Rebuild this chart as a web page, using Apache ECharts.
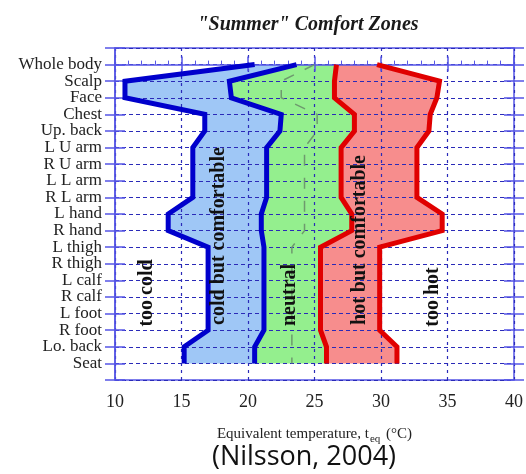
<!DOCTYPE html>
<html>
<head>
<meta charset="utf-8">
<script src="https://cdn.jsdelivr.net/npm/echarts@6/dist/echarts.min.js"></script>
<style>
  html, body { margin: 0; padding: 0; background: #ffffff; }
  #chart { width: 526px; height: 474px; }
</style>
</head>
<body>
<div id="chart"></div>
<script>
// Body segments, listed top to bottom
const segments = ['Whole body', 'Scalp', 'Face', 'Chest', 'Up. back', 'L U arm', 'R U arm',
  'L L arm', 'R L arm', 'L hand', 'R hand', 'L thigh', 'R thigh', 'L calf', 'R calf',
  'L foot', 'R foot', 'Lo. back', 'Seat'];

// Zone boundaries, equivalent temperature (°C) per segment
const tooColdLimit = [20.5, 10.75, 10.75, 16.75, 16.75, 15.85, 15.85, 15.85, 15.85, 14.0, 14.0,
  17.0, 17.0, 17.0, 17.0, 17.0, 17.0, 15.2, 15.2];
const neutralLow = [23.65, 18.6, 18.75, 22.5, 22.4, 21.4, 21.4, 21.4, 21.4, 21.0, 21.0,
  21.2, 21.2, 21.2, 21.2, 21.2, 21.2, 20.5, 20.5];
const neutralHigh = [26.65, 26.5, 26.5, 28.0, 28.0, 27.0, 27.0, 27.0, 27.0, 27.8, 27.8,
  25.45, 25.45, 25.45, 25.45, 25.45, 25.45, 25.9, 25.9];
const tooHotLimit = [29.7, 34.4, 34.2, 33.7, 33.6, 32.7, 32.7, 32.7, 32.7, 34.6, 34.6,
  29.9, 29.9, 29.9, 29.9, 29.9, 29.9, 31.2, 31.2];
// Neutral (optimum) temperature
const neutralTemp = [25.0, 22.5, 22.5, 25.2, 25.2, 24.25, 24.25, 24.25, 24.25, 24.25, 24.25,
  23.3, 23.3, 23.3, 23.3, 23.3, 23.3, 23.3, 23.3];

// X axis tick values
const xTicks = [10, 15, 20, 25, 30, 35, 40];

const serif = '"Liberation Serif", "DejaVu Serif", serif';
const axisBlue = '#5656e6';
const gridBlue = '#2a2ab8';

function points(values) {
  return values.map(function (v, i) { return [v, i]; });
}

// Filled band between two boundaries, built from axis coordinates
function band(left, right, color) {
  return {
    type: 'custom',
    z: 1,
    silent: true,
    data: [[left[0], 0]],
    renderItem: function (params, api) {
      const pts = [];
      for (let i = 0; i < left.length; i++) pts.push(api.coord([left[i], i]));
      for (let i = right.length - 1; i >= 0; i--) pts.push(api.coord([right[i], i]));
      return { type: 'polygon', shape: { points: pts }, style: { fill: color } };
    }
  };
}

function boundary(values, color) {
  return {
    type: 'line',
    z: 4,
    data: points(values),
    symbol: 'none',
    silent: true,
    lineStyle: { color: color, width: 5, join: 'miter' }
  };
}

function zoneLabel(text, x, y) {
  return {
    type: 'text', x: x, y: y, rotation: Math.PI / 2, z: 10,
    style: { text: text, font: 'bold 20px ' + serif, fill: '#111', textAlign: 'center', textVerticalAlign: 'middle' }
  };
}

const yBase = {
  type: 'value', min: -1, max: 19, interval: 1, inverse: true, z: 2,
  axisLabel: { show: false },
  splitLine: { show: false },
  axisLine: { show: false }
};

const chart = echarts.init(document.getElementById('chart'), null, { renderer: 'canvas' });
chart.setOption({
  animation: false,
  backgroundColor: '#ffffff',
  title: [{
    text: '"Summer" Comfort Zones',
    left: 303, top: 10, textAlign: 'center',
    textStyle: { fontFamily: serif, fontStyle: 'italic', fontWeight: 'bold', fontSize: 20, color: '#1a1a1a' }
  }, {
    text: '(Nilsson, 2004)',
    left: 299, top: 439, textAlign: 'center',
    textStyle: { fontFamily: '"Open Sans", Lato, sans-serif', fontWeight: 'normal', fontSize: 27, color: '#111' }
  }],
  grid: {
    left: 115, right: 10, top: 48, bottom: 94,
    show: true, borderColor: axisBlue, borderWidth: 1.5, backgroundColor: 'transparent'
  },
  xAxis: [{
    type: 'value', min: xTicks[0], max: xTicks[xTicks.length - 1], interval: 5, position: 'bottom', z: 2,
    axisLine: { show: true, lineStyle: { color: axisBlue, width: 1.5 } },
    axisTick: { show: true, length: 7, lineStyle: { color: axisBlue, width: 1.5 } },
    axisLabel: { fontFamily: serif, fontSize: 18, color: '#222', margin: 13 },
    splitLine: { show: true, lineStyle: { color: gridBlue, width: 1.2, type: [3, 4] } },
    name: 'Equivalent temperature, t{sub|eq} (°C)',
    nameLocation: 'middle', nameGap: 44,
    nameTextStyle: {
      fontFamily: serif, fontSize: 15, color: '#222',
      rich: { sub: { fontFamily: serif, fontSize: 11, color: '#222', padding: [10, 2, 0, 1] } }
    }
  }, {
    type: 'value', min: xTicks[0], max: xTicks[xTicks.length - 1], interval: 5, position: 'bottom', z: 2,
    axisLine: { show: false },
    axisTick: { show: true, inside: true, length: 8, lineStyle: { color: axisBlue, width: 1.5 } },
    minorTick: { show: true, splitNumber: 5, length: 4, lineStyle: { color: axisBlue, width: 1 } },
    axisLabel: { show: false },
    splitLine: { show: false }
  }],
  yAxis: [
    Object.assign({}, yBase, {
      position: 'left',
      axisLine: { show: true, lineStyle: { color: axisBlue, width: 1.5 } },
      axisTick: { show: true, length: 10, lineStyle: { color: axisBlue, width: 1.5 } },
      axisLabel: {
        show: true, margin: 13, fontFamily: serif, fontSize: 17, color: '#222',
        formatter: function (v) { return segments[v] || ''; }
      },
      splitLine: { show: true, lineStyle: { color: gridBlue, width: 1.2, type: [4, 3] } }
    }),
    Object.assign({}, yBase, {
      position: 'left',
      axisTick: { show: true, inside: true, length: 10, lineStyle: { color: axisBlue, width: 1.5 } }
    }),
    Object.assign({}, yBase, {
      position: 'right',
      axisTick: { show: true, length: 10, lineStyle: { color: axisBlue, width: 1.5 } }
    }),
    Object.assign({}, yBase, {
      position: 'right',
      axisTick: { show: true, inside: true, length: 10, lineStyle: { color: axisBlue, width: 1.5 } }
    })
  ],
  series: [
    band(tooColdLimit, neutralLow, '#9fc7f6'),
    band(neutralLow, neutralHigh, '#94ef8e'),
    band(neutralHigh, tooHotLimit, '#f78d8d'),
    {
      type: 'line', z: 3, data: points(neutralTemp), symbol: 'none', silent: true,
      lineStyle: { color: '#6e9a6e', width: 1.5, type: [11, 12] }
    },
    boundary(tooColdLimit, '#0000cc'),
    boundary(neutralLow, '#0000cc'),
    boundary(neutralHigh, '#e00000'),
    boundary(tooHotLimit, '#e00000')
  ],
  graphic: [
    zoneLabel('too cold', 147, 293),
    zoneLabel('cold but comfortable', 219, 236),
    zoneLabel('neutral', 290, 295),
    zoneLabel('hot but comfortable', 360, 240),
    zoneLabel('too hot', 433, 297)
  ]
});
</script>
</body>
</html>
